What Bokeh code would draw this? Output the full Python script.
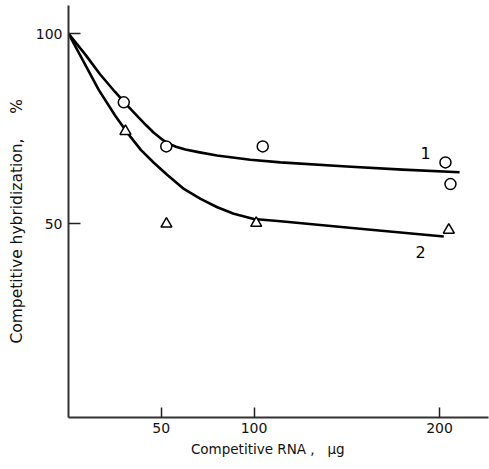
from bokeh.plotting import figure
from bokeh.models import FixedTicker, Range1d, ColumnDataSource
from bokeh.core.properties import value
from bokeh.embed import file_html
from bokeh.resources import INLINE

# Measured points
circ_x = [29.8, 52.7, 104.7, 203.2, 205.9]
circ_y = [81.9, 70.3, 70.3, 66.1, 60.4]
tri_x = [30.7, 52.8, 101.2, 205.0]
tri_y = [74.3, 49.9, 50.1, 48.3]

# Fitted curves
curve1_x = [0, 9.2, 17, 25, 32, 38, 42, 46, 50, 54, 58, 63, 70, 80, 98, 114.3, 150, 180, 210.8]
curve1_y = [100, 94.4, 89.3, 84.7, 80.9, 77.8, 75.8, 73.9, 72.3, 71.0, 70.2, 69.5, 68.8, 67.9, 66.8, 66.1, 65.0, 64.2, 63.5]
curve2_x = [0, 7.4, 16.3, 25.3, 32.5, 39, 46, 53, 62.2, 71.2, 80.2, 89.1, 99.9, 114.3, 130, 160, 202.3]
curve2_y = [100, 93.3, 85.2, 78.3, 73.4, 69.4, 66.0, 62.9, 59.1, 56.5, 54.3, 52.6, 51.2, 50.6, 49.9, 48.5, 46.6]

curve_labels = ["1", "2"]
label_x = [192.5, 189.8]
label_y = [68.7, 42.4]

x_ticks = [50, 100, 200]
y_ticks = [50, 100]

FONT = "DejaVu Sans"
NB = "\u00a0"

p = figure(width=489, height=469, output_backend="svg", toolbar_location=None,
           x_range=Range1d(0, 226.4), y_range=Range1d(-1.05, 107.4),
           min_border_left=68, min_border_right=1, min_border_top=5, min_border_bottom=52)
p.outline_line_color = None
p.grid.visible = False
p.background_fill_color = "white"
p.border_fill_color = "white"

for ax in (p.xaxis[0], p.yaxis[0]):
    ax.axis_line_color = "#333333"
    ax.axis_line_width = 2
    ax.major_tick_line_color = "#222222"
    ax.major_tick_line_width = 1.5
    ax.major_tick_out = 0
    ax.minor_tick_line_color = None
    ax.major_label_text_font = FONT
    ax.major_label_text_font_size = "14px"
    ax.major_label_text_color = "#111111"
    ax.axis_label_text_font = FONT
    ax.axis_label_text_font_style = "normal"
    ax.axis_label_text_color = "#111111"

p.xaxis[0].axis_label_text_font_size = "13.5px"
p.yaxis[0].axis_label_text_font_size = "15.5px"
p.xaxis[0].ticker = FixedTicker(ticks=x_ticks)
p.yaxis[0].ticker = FixedTicker(ticks=y_ticks)
p.xaxis[0].major_tick_in = 10
p.yaxis[0].major_tick_in = 12
p.xaxis[0].major_label_standoff = 5
p.yaxis[0].major_label_standoff = 6
p.xaxis[0].axis_label = "Competitive RNA ," + NB * 3 + "\u03bcg" + NB * 5
p.yaxis[0].axis_label = "Competitive hybridization," + NB * 5 + "%" + NB * 4
p.xaxis[0].axis_label_standoff = 5
p.yaxis[0].axis_label_standoff = 7

p.line(curve1_x, curve1_y, line_color="black", line_width=2.6, line_join="round")
p.line(curve2_x, curve2_y, line_color="black", line_width=2.6, line_join="round")

p.scatter(circ_x, circ_y, marker="circle", size=11, fill_color="white",
          line_color="black", line_width=1.5)
p.scatter(tri_x, tri_y, marker="triangle", size=11, fill_color="white",
          line_color="black", line_width=1.5)

src = ColumnDataSource(dict(x=label_x, y=label_y, t=curve_labels))
p.text(x="x", y="y", text="t", source=src, text_font=value(FONT),
       text_font_size="16px", text_align="center", text_baseline="middle",
       text_color="black")

open("out.html", "w").write(file_html(p, INLINE))
